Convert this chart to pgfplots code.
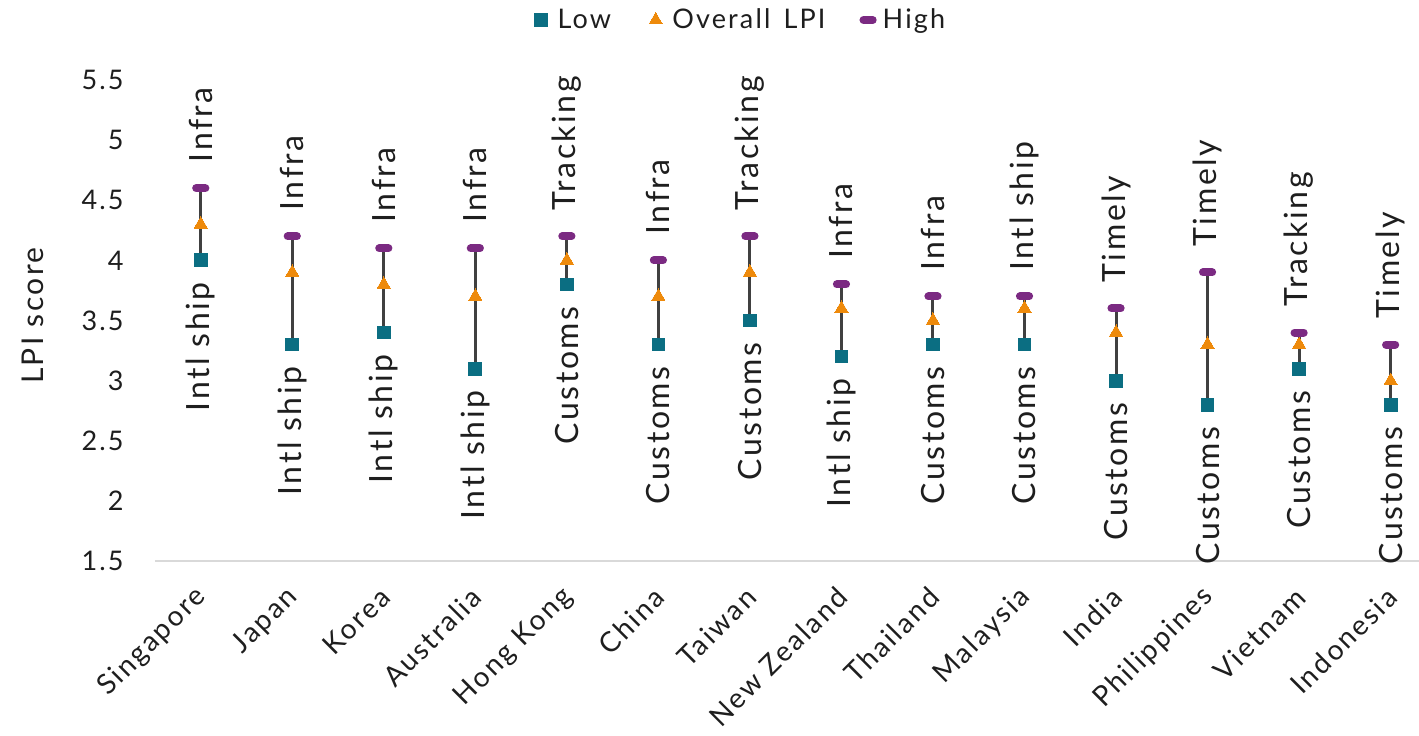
\documentclass[border=0pt]{standalone}
\usepackage{fontspec}
\setmainfont{Lato}[LetterSpace=8]
\usepackage{pgfplots}
\pgfplotsset{compat=1.18}
\usepackage{pgfplotstable}

\definecolor{lowc}{HTML}{0B6E82}
\definecolor{midc}{HTML}{EE8A0B}
\definecolor{highc}{HTML}{7B2A82}
\definecolor{stem}{HTML}{404040}
\definecolor{axisgray}{HTML}{D9D9D9}
\definecolor{txt}{HTML}{1E1E1E}

% LPI range per economy: weakest and strongest pillar around the overall score
\pgfplotstableread[col sep=comma]{
idx,country,low,mid,high,lowlab,highlab
0,Singapore,4.0,4.3,4.6,Intl ship,Infra
1,Japan,3.3,3.9,4.2,Intl ship,Infra
2,Korea,3.4,3.8,4.1,Intl ship,Infra
3,Australia,3.1,3.7,4.1,Intl ship,Infra
4,Hong Kong,3.8,4.0,4.2,Customs,Tracking
5,China,3.3,3.7,4.0,Customs,Infra
6,Taiwan,3.5,3.9,4.2,Customs,Tracking
7,New Zealand,3.2,3.6,3.8,Intl ship,Infra
8,Thailand,3.3,3.5,3.7,Customs,Infra
9,Malaysia,3.3,3.6,3.7,Customs,Intl ship
10,India,3.0,3.4,3.6,Customs,Timely
11,Philippines,2.8,3.3,3.9,Customs,Timely
12,Vietnam,3.1,3.3,3.4,Customs,Tracking
13,Indonesia,2.8,3.0,3.3,Customs,Timely
}\lpi

\begin{document}
\begin{tikzpicture}
\begin{axis}[
  scale only axis, width=632pt, height=240.5pt,
  xmin=-0.5, xmax=13.31, ymin=1.5, ymax=5.5,
  clip=false,
  axis x line*=bottom, axis y line*=left,
  x axis line style={axisgray, line width=0.8pt, -},
  y axis line style={draw=none},
  major tick length=0pt,
  xtick={0,...,13},
  xticklabels from table={\lpi}{country},
  ytick={1.5,2,2.5,3,3.5,4,4.5,5,5.5},
  /pgf/number format/assume math mode=true,
  yticklabel style={font=\fontsize{13.5}{15}\selectfont, text=txt, anchor=east, inner sep=0pt, xshift=-15.5pt},
  % shifts below act in the label's rotated frame
  xticklabel style={font=\fontsize{14}{16}\selectfont, text=txt, rotate=45, anchor=east, inner sep=0pt, xshift=-10.6pt, yshift=-11.6pt},
  ylabel={LPI score},
  ylabel style={font=\fontsize{15}{17}\selectfont, text=txt, at={(axis description cs:-0.0965,0.51)}, anchor=center},
  legend style={at={(0.4644,1.1247)}, anchor=center, draw=none, fill=none,
    font=\fontsize{13.5}{15}\selectfont, text=txt,
    legend columns=-1,
    /tikz/every odd column/.append style={column sep=3pt},
    /tikz/every even column/.append style={column sep=17pt}},
  legend cell align=left,
]
% connecting stems from low to high
\addplot[forget plot, draw=none, mark=none,
  error bars/.cd, y dir=plus, y explicit, error mark=none,
  error bar style={stem, line width=1.5pt}]
  table[x=idx, y=low, y error expr=\thisrow{high}-\thisrow{low}]{\lpi};

\addplot[lowc, only marks, mark=square*, mark size=3.2pt,
  mark options={fill=lowc, draw=lowc, line width=0pt},
  nodes near coords, point meta=explicit symbolic,
  every node near coord/.append style={rotate=90, anchor=east, inner xsep=11pt, inner ysep=0pt,
    font=\fontsize{16}{18}\selectfont, text=txt}]
  table[x=idx, y=low, meta=lowlab]{\lpi};
\addlegendentry{Low}

\addplot[midc, only marks, mark=triangle*, mark size=3.8pt,
  mark options={fill=midc, draw=midc, line width=0pt}]
  table[x=idx, y=mid]{\lpi};
\addlegendentry{Overall\hspace{0.15em} LPI}

\addplot[highc, only marks, mark=-, mark size=2.3pt,
  mark options={draw=highc, line width=4pt, line cap=round},
  nodes near coords, point meta=explicit symbolic,
  every node near coord/.append style={rotate=90, anchor=west, inner xsep=11pt, inner ysep=0pt,
    font=\fontsize{16}{18}\selectfont, text=txt}]
  table[x=idx, y=high, meta=highlab]{\lpi};
\addlegendentry{High}
\end{axis}
\pgfresetboundingbox
\path[use as bounding box] (current axis.south west) ++(-77.5pt,-87pt) rectangle ++(709.5pt,367.5pt);
\end{tikzpicture}
\end{document}
